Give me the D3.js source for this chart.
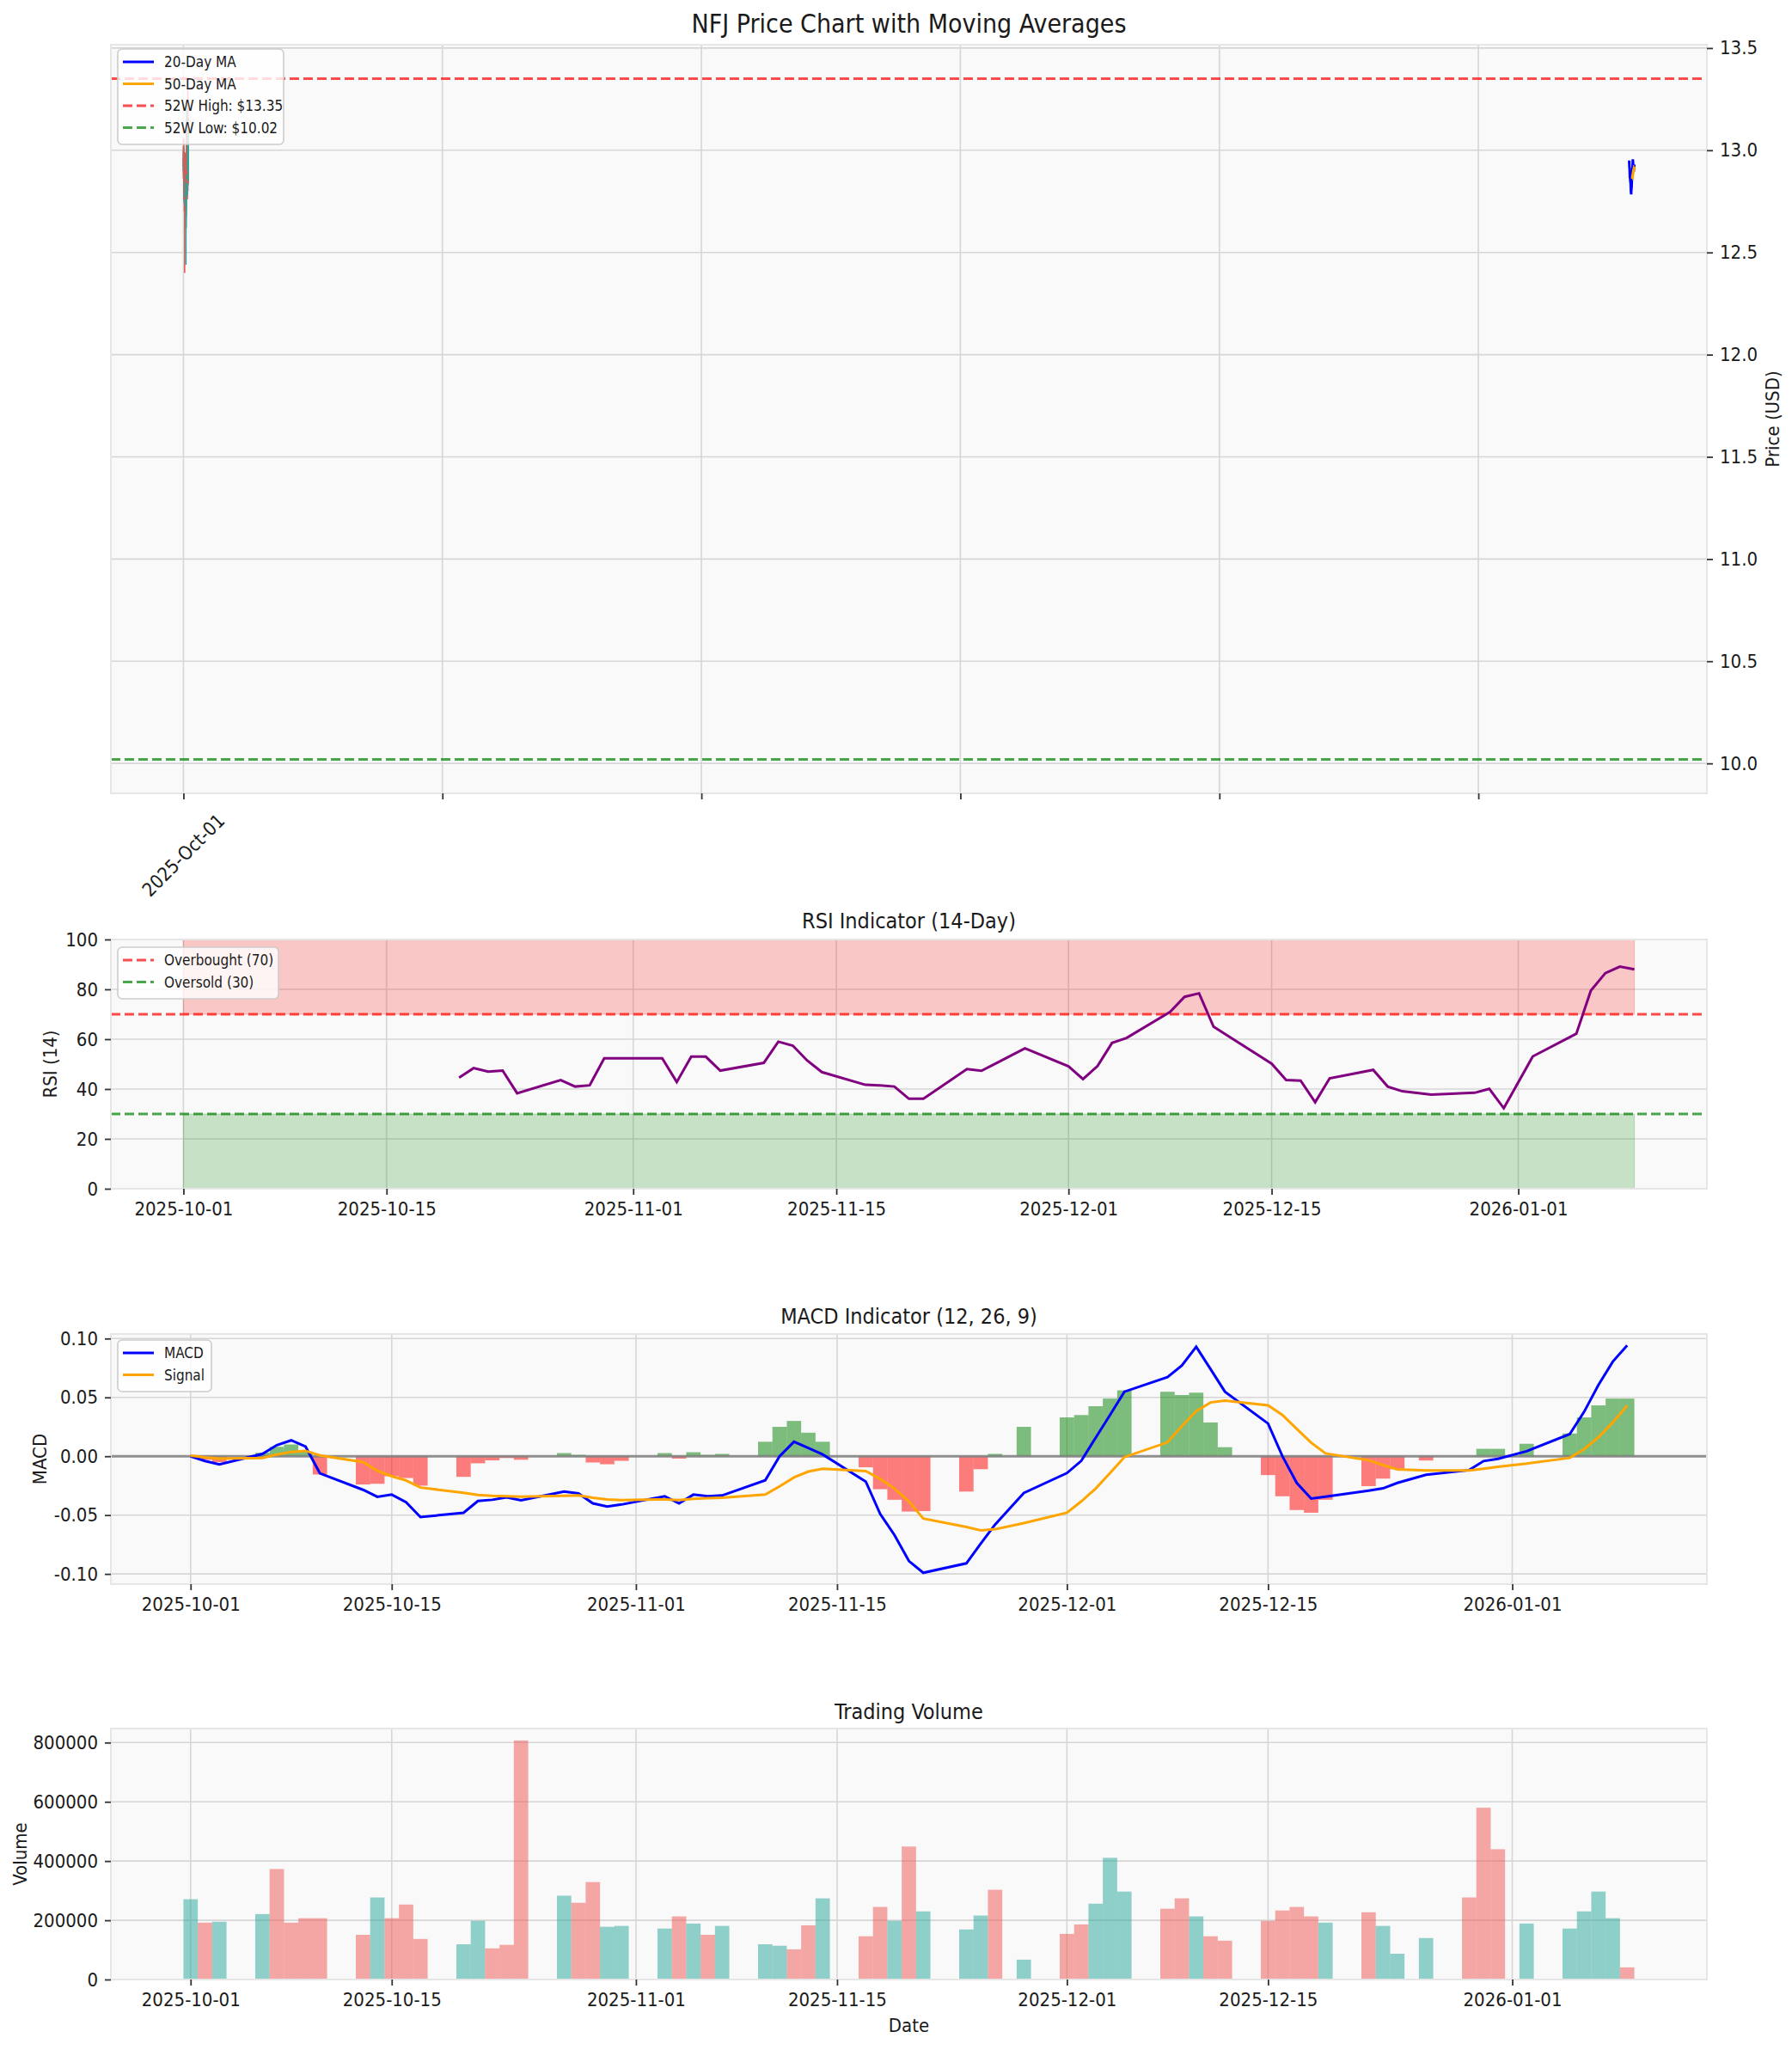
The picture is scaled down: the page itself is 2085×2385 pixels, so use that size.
<!DOCTYPE html>
<html>
<head>
<meta charset="utf-8">
<script src="https://cdn.jsdelivr.net/npm/d3@7"></script>
<style>
  body { margin: 0; background: #ffffff; }
  svg text { font-family: "Liberation Sans Narrow", "DejaVu Sans Condensed", "Noto Sans", sans-serif; fill: #1a1a1a; }
</style>
</head>
<body>
<svg id="chart" width="2085" height="2385"></svg>
<script>
// ---- data ----
const dates = [
  "2025-10-01","2025-10-02","2025-10-03","2025-10-06","2025-10-07","2025-10-08","2025-10-09","2025-10-10",
  "2025-10-13","2025-10-14","2025-10-15","2025-10-16","2025-10-17","2025-10-20","2025-10-21","2025-10-22",
  "2025-10-23","2025-10-24","2025-10-27","2025-10-28","2025-10-29","2025-10-30","2025-10-31",
  "2025-11-03","2025-11-04","2025-11-05","2025-11-06","2025-11-07","2025-11-10","2025-11-11","2025-11-12",
  "2025-11-13","2025-11-14","2025-11-17","2025-11-18","2025-11-19","2025-11-20","2025-11-21","2025-11-24",
  "2025-11-25","2025-11-26","2025-11-28",
  "2025-12-01","2025-12-02","2025-12-03","2025-12-04","2025-12-05","2025-12-08","2025-12-09","2025-12-10",
  "2025-12-11","2025-12-12","2025-12-15","2025-12-16","2025-12-17","2025-12-18","2025-12-19","2025-12-22",
  "2025-12-23","2025-12-24","2025-12-26","2025-12-29","2025-12-30","2025-12-31",
  "2026-01-02","2026-01-05","2026-01-06","2026-01-07","2026-01-08","2026-01-09"
];

const opens = [
  12.90,12.96,12.92,12.95,13.01,12.98,12.96,12.93,12.88,12.82,12.87,12.85,12.81,12.77,12.82,12.86,
  12.84,12.83,12.78,12.85,12.83,12.77,12.80,
  12.82,12.86,12.80,12.87,12.83,12.85,12.90,12.96,12.93,12.86,12.89,12.82,12.72,12.78,12.67,12.72,
  12.78,12.88,12.86,
  12.91,12.93,12.90,12.96,13.01,13.07,13.10,13.06,13.10,13.02,12.99,12.94,12.87,12.83,12.80,12.88,
  12.84,12.86,12.87,12.90,12.92,12.88,
  12.85,12.92,12.96,13.02,13.08,13.13
];
const highs = [
  13.02,12.99,13.00,13.05,13.06,13.00,12.98,12.95,12.90,12.91,12.90,12.88,12.84,12.85,12.88,12.89,
  12.87,12.86,12.88,12.88,12.86,12.84,12.86,
  12.89,12.88,12.89,12.90,12.88,12.93,12.98,12.99,12.95,12.92,12.91,12.84,12.80,12.82,12.76,12.81,
  12.87,12.91,12.92,
  12.94,12.96,12.99,13.25,13.09,13.10,13.13,13.16,13.12,13.05,13.01,12.96,12.89,12.86,12.87,12.90,
  12.89,12.90,12.91,12.93,13.30,12.91,
  12.95,12.99,13.05,13.11,13.15,13.16
];
const lows = [
  12.86,12.88,12.90,12.93,12.92,12.91,12.90,12.80,12.78,12.75,12.80,12.76,12.70,12.74,12.79,12.80,
  12.78,12.40,12.74,12.78,12.72,12.73,12.77,
  12.79,12.76,12.78,12.80,12.80,12.83,12.88,12.90,12.85,12.82,12.79,12.70,12.44,12.62,12.62,12.70,
  12.76,12.83,12.85,
  12.85,12.87,12.88,12.94,12.99,13.00,13.02,13.04,12.98,12.95,12.90,12.83,12.78,12.76,12.78,12.82,
  12.82,12.84,12.85,12.85,12.83,12.80,
  12.83,12.90,12.94,13.00,13.05,13.07
];
const closes = [
  12.95,12.92,12.96,13.00,12.97,12.95,12.93,12.85,12.83,12.86,12.84,12.80,12.76,12.82,12.85,12.83,
  12.82,12.78,12.84,12.82,12.78,12.80,12.83,
  12.86,12.80,12.86,12.84,12.85,12.90,12.95,12.93,12.88,12.89,12.82,12.74,12.76,12.68,12.72,12.78,
  12.84,12.86,12.90,
  12.88,12.90,12.96,13.02,13.05,13.04,13.06,13.12,13.02,12.98,12.94,12.86,12.82,12.80,12.84,12.85,
  12.86,12.88,12.89,12.88,12.87,12.84,
  12.92,12.96,13.02,13.08,13.12,13.10
];

const volumes = [
  271000,192000,195000,221000,373000,192000,207000,207000,151000,277000,207000,253000,137000,119000,
  198000,105000,117000,807000,283000,259000,329000,178000,181000,
  172000,213000,189000,151000,181000,119000,114000,102000,183000,274000,146000,245000,198000,449000,
  230000,169000,216000,303000,67000,
  154000,186000,256000,411000,297000,239000,274000,213000,146000,131000,198000,233000,245000,213000,
  192000,227000,181000,87000,140000,277000,580000,440000,
  189000,172000,230000,297000,207000,41000
];

const ma20 = [
  null,null,null,null,null,null,null,null,null,null,null,null,null,null,null,null,null,null,null,
  12.95,12.94,12.93,12.92,
  12.91,12.90,12.89,12.88,12.87,12.87,12.86,12.86,12.85,12.85,12.84,12.83,12.82,12.81,12.80,12.79,
  12.79,12.80,12.81,
  12.82,12.83,12.84,12.85,12.86,12.87,12.88,12.89,12.90,12.91,12.92,12.93,12.94,12.95,12.95,12.94,
  12.93,12.92,12.91,12.90,12.90,12.90,
  12.91,12.91,12.92,12.92,12.93,12.93
];
const ma50 = [
  null,null,null,null,null,null,null,null,null,null,null,null,null,null,null,null,null,null,null,
  null,null,null,null,
  null,null,null,null,null,null,null,null,null,null,null,null,null,null,null,null,null,null,null,
  null,null,null,null,null,null,null,
  12.86,12.86,12.87,12.87,12.87,12.88,12.88,12.88,12.89,12.89,12.89,12.90,12.90,12.90,12.90,
  12.91,12.91,12.91,12.92,12.92,12.92
];

const rsi = [
  null,null,null,null,null,null,null,null,null,null,null,null,null,
  44.6,48.4,47.0,47.4,38.3,43.6,41.0,41.5,52.3,52.3,
  52.3,42.8,53.0,53.0,47.4,50.5,59.0,57.4,51.4,46.8,41.7,41.5,41.0,36.1,36.1,48.0,47.3,50.3,56.3,
  49.1,44.0,49.2,58.5,60.5,70.9,77.0,78.4,65.0,61.3,50.2,43.6,43.4,34.7,44.3,47.7,41.0,39.1,37.8,
  38.5,40.1,32.3,
  53.1,62.2,79.5,86.5,89.1,88.0
];

const macd = [
  0.000,-0.004,-0.007,0.002,0.0094,0.0135,0.0082,-0.0145,-0.0285,-0.0345,-0.0326,-0.039,-0.0517,
  -0.048,-0.038,-0.037,-0.035,-0.0374,-0.030,-0.0316,-0.040,-0.0428,-0.041,
  -0.034,-0.040,-0.0326,-0.034,-0.0333,-0.0205,0.000,0.0123,0.007,0.0015,-0.0215,-0.049,-0.067,
  -0.089,-0.099,-0.091,-0.0743,-0.058,-0.0312,
  -0.0143,-0.0039,0.0157,0.035,0.0548,0.0672,0.077,0.093,0.074,0.0548,0.0278,0.000,-0.0227,-0.036,
  -0.0343,-0.0292,-0.0273,-0.0227,-0.0157,-0.0118,-0.0041,-0.0022,
  0.0043,0.0188,0.0377,0.0606,0.0804,0.0942
];
const signal = [
  0.0005,-0.001,-0.002,-0.0015,0.0015,0.0036,0.0046,0.0007,-0.005,-0.0123,-0.017,-0.0205,-0.0266,
  -0.031,-0.0329,-0.0336,-0.034,-0.0343,-0.0336,-0.0333,-0.0353,-0.0367,-0.0372,
  -0.0367,-0.0372,-0.0362,-0.0357,-0.0353,-0.0326,-0.0256,-0.018,-0.013,-0.0106,-0.0126,-0.0193,
  -0.0275,-0.0384,-0.0529,-0.0601,-0.063,-0.062,-0.0568,
  -0.048,-0.0384,-0.0275,-0.0143,-0.0007,0.0118,0.0256,0.0384,0.0457,0.0473,0.0432,0.035,0.0232,
  0.0116,0.0024,-0.0034,-0.0075,-0.0111,-0.0121,-0.0121,-0.0106,-0.0089,
  -0.0063,-0.0014,0.006,0.0162,0.0287,0.043
];
const histogram = [
  0.000,-0.003,-0.005,0.003,0.008,0.010,0.004,-0.0155,-0.024,-0.0234,-0.017,-0.0185,-0.025,
  -0.0175,-0.006,-0.0035,-0.0015,-0.003,0.0027,0.0012,-0.0053,-0.0068,-0.0039,
  0.0027,-0.002,0.0034,0.0012,0.002,0.0123,0.025,0.030,0.020,0.0123,-0.0094,-0.028,-0.037,-0.047,
  -0.0466,-0.030,-0.011,0.002,0.025,
  0.033,0.035,0.0425,0.049,0.056,0.0548,0.052,0.054,0.0287,0.0077,-0.016,-0.034,-0.0457,-0.048,
  -0.037,-0.0254,-0.019,-0.011,-0.0036,0.0003,0.0063,0.0063,
  0.0106,0.0193,0.033,0.0432,0.049,0.049
];

const high52 = 13.35;
const low52 = 10.02;

const dateTicks = ["2025-10-01","2025-10-15","2025-11-01","2025-11-15","2025-12-01","2025-12-15","2026-01-01"];
// the price panel mixes candle index and date numbers, so its ticks sit on decade starts
const priceTickYears = [1970, 1980, 1990, 2000, 2010, 2020];
const priceTickLabels = ["2025-Oct-01", "", "", "", "", ""];
const priceTicks = [10.0, 10.5, 11.0, 11.5, 12.0, 12.5, 13.0, 13.5];
const rsiTicks = [0, 20, 40, 60, 80, 100];
const macdTicks = [-0.10, -0.05, 0.00, 0.05, 0.10];
const volumeTicks = [0, 200000, 400000, 600000, 800000];

// ---- layout ----
const svg = d3.select("#chart");
const X0 = 129, X1 = 1986;
const panel = {
  price: [52, 923],
  rsi: [1093, 1383],
  macd: [1552, 1843],
  vol: [2011, 2303],
};
const BG = "#f9f9f9", GRID = "#d6d6d6", SPINE = "#e6e6e6", TICK = "#333333";
const TICK_FONT = 22, TITLE_FONT = 25, LEGEND_FONT = 17;

const parse = d3.utcParse("%Y-%m-%d");
const DAY = 864e5;
const days = dates.map(parse);
const epochDays = (d) => d.getTime() / DAY;

const rows = dates.map((d, i) => ({
  i,
  date: days[i],
  open: opens[i], high: highs[i], low: lows[i], close: closes[i],
  volume: volumes[i],
  ma20: ma20[i], ma50: ma50[i],
  rsi: rsi[i], macd: macd[i], signal: signal[i], hist: histogram[i],
}));
const first = days[0], last = days[days.length - 1];

function shiftDays(d, n) { return new Date(d.getTime() + n * DAY); }

function addPanel([y0, y1]) {
  const g = svg.append("g");
  g.append("rect").attr("x", X0).attr("y", y0).attr("width", X1 - X0).attr("height", y1 - y0).attr("fill", BG);
  return g;
}

function addGrid(g, [y0, y1], xs, ys) {
  g.append("g").selectAll("line").data(xs).join("line")
    .attr("x1", (d) => d).attr("x2", (d) => d).attr("y1", y0).attr("y2", y1)
    .attr("stroke", GRID).attr("stroke-width", 1.6);
  g.append("g").selectAll("line").data(ys).join("line")
    .attr("x1", X0).attr("x2", X1).attr("y1", (d) => d).attr("y2", (d) => d)
    .attr("stroke", GRID).attr("stroke-width", 1.6);
}

function addSpine(g, [y0, y1]) {
  g.append("rect").attr("x", X0).attr("y", y0).attr("width", X1 - X0).attr("height", y1 - y0)
    .attr("fill", "none").attr("stroke", SPINE).attr("stroke-width", 2);
}

function styleAxis(axisG) {
  axisG.select(".domain").remove();
  axisG.selectAll(".tick line").attr("stroke", TICK).attr("stroke-width", 1.8);
  axisG.selectAll(".tick text").attr("font-size", TICK_FONT).attr("fill", "#1a1a1a")
    .style("font-family", null);
  axisG.attr("font-family", null).attr("font-size", null);
}

function addTitle(text, y, size) {
  svg.append("text").attr("x", (X0 + X1) / 2).attr("y", y)
    .attr("text-anchor", "middle").attr("dominant-baseline", "central")
    .attr("font-size", size).text(text);
}

function addYLabel(text, x, [y0, y1]) {
  svg.append("text")
    .attr("transform", `translate(${x},${(y0 + y1) / 2}) rotate(-90)`)
    .attr("text-anchor", "middle").attr("dominant-baseline", "central")
    .attr("font-size", TICK_FONT).text(text);
}

function addLegend(x, y, w, items) {
  const rowH = 25.5;
  const h = items.length * rowH + 9;
  const g = svg.append("g").attr("transform", `translate(${x},${y})`);
  g.append("rect").attr("width", w).attr("height", h).attr("rx", 5)
    .attr("fill", "#ffffff").attr("fill-opacity", 0.8)
    .attr("stroke", "#cccccc").attr("stroke-width", 1.6);
  items.forEach((it, k) => {
    const cy = 15 + k * rowH;
    g.append("line").attr("x1", 6).attr("x2", 42).attr("y1", cy).attr("y2", cy)
      .attr("stroke", it.color).attr("stroke-width", 3.2)
      .attr("stroke-opacity", it.opacity || 1)
      .attr("stroke-dasharray", it.dash ? "11,5" : null);
    g.append("text").attr("x", 54).attr("y", cy).attr("dominant-baseline", "central")
      .attr("font-size", LEGEND_FONT).text(it.label);
  });
}

// ---- price panel ----
{
  const p = panel.price;
  const g = addPanel(p);
  // candles at their row index, averages at their dates: both on one numeric axis
  const xMin = -0.3, xMax = epochDays(last);
  const pad = (xMax - xMin) * 0.05;
  const x = d3.scaleLinear().domain([xMin - pad, xMax + pad]).range([X0, X1]);
  const yPad = (high52 - low52) * 0.05;
  const y = d3.scaleLinear().domain([low52 - yPad, high52 + yPad]).range([p[1], p[0]]);
  const tickX = priceTickYears.map((yr) => Date.UTC(yr, 0, 1) / DAY);

  addGrid(g, p, tickX.map(x), priceTicks.map(y));

  const up = "#26a69a", down = "#ef5350";
  const candles = g.append("g");
  candles.selectAll("line").data(rows).join("line")
    .attr("x1", (d) => x(d.i)).attr("x2", (d) => x(d.i))
    .attr("y1", (d) => y(d.high)).attr("y2", (d) => y(d.low))
    .attr("stroke", (d) => (d.close >= d.open ? up : down)).attr("stroke-width", 1.6);
  candles.selectAll("rect").data(rows).join("rect")
    .attr("x", (d) => x(d.i - 0.3) - 0.8)
    .attr("width", (d) => x(d.i + 0.3) - x(d.i - 0.3) + 1.6)
    .attr("y", (d) => y(Math.max(d.open, d.close)))
    .attr("height", (d) => Math.max(1, Math.abs(y(d.open) - y(d.close))))
    .attr("fill", (d) => (d.close >= d.open ? up : down));

  const maLine = (key) => d3.line().defined((d) => d[key] != null)
    .x((d) => x(epochDays(d.date))).y((d) => y(d[key]));
  g.append("path").datum(rows).attr("d", maLine("ma20"))
    .attr("fill", "none").attr("stroke", "#0000ff").attr("stroke-width", 3);
  g.append("path").datum(rows).attr("d", maLine("ma50"))
    .attr("fill", "none").attr("stroke", "#ffa500").attr("stroke-width", 3);

  g.append("line").attr("x1", X0).attr("x2", X1).attr("y1", y(high52)).attr("y2", y(high52))
    .attr("stroke", "#ff0000").attr("stroke-opacity", 0.7).attr("stroke-width", 3).attr("stroke-dasharray", "11,5");
  g.append("line").attr("x1", X0).attr("x2", X1).attr("y1", y(low52)).attr("y2", y(low52))
    .attr("stroke", "#008000").attr("stroke-opacity", 0.7).attr("stroke-width", 3).attr("stroke-dasharray", "11,5");

  addSpine(g, p);

  const ax = svg.append("g").attr("transform", `translate(0,${p[1]})`)
    .call(d3.axisBottom(x).tickValues(tickX).tickFormat((d, k) => priceTickLabels[k]).tickSize(7).tickSizeOuter(0));
  styleAxis(ax);
  ax.selectAll(".tick text").remove();
  tickX.forEach((t, k) => {
    if (!priceTickLabels[k]) return;
    svg.append("text")
      .attr("transform", `translate(${x(t)},${p[1] + 72}) rotate(-45)`)
      .attr("text-anchor", "middle").attr("dominant-baseline", "central")
      .attr("font-size", TICK_FONT).text(priceTickLabels[k]);
  });

  const ay = svg.append("g").attr("transform", `translate(${X1},0)`)
    .call(d3.axisRight(y).tickValues(priceTicks).tickFormat(d3.format(".1f")).tickSize(7).tickPadding(8));
  styleAxis(ay);

  addTitle("NFJ Price Chart with Moving Averages", 27, 30);
  addYLabel("Price (USD)", 2062, p);
  addLegend(137, 57, 193, [
    { label: "20-Day MA", color: "#0000ff" },
    { label: "50-Day MA", color: "#ffa500" },
    { label: "52W High: $13.35", color: "#ff0000", dash: true, opacity: 0.7 },
    { label: "52W Low: $10.02", color: "#008000", dash: true, opacity: 0.7 },
  ]);
}

function dateAxis(x, p) {
  const ax = svg.append("g").attr("transform", `translate(0,${p[1]})`)
    .call(d3.axisBottom(x).tickValues(dateTicks.map(parse)).tickFormat(d3.utcFormat("%Y-%m-%d"))
      .tickSize(7).tickPadding(8).tickSizeOuter(0));
  styleAxis(ax);
}

// ---- RSI panel ----
{
  const p = panel.rsi;
  const g = addPanel(p);
  const x = d3.scaleUtc().domain([shiftDays(first, -5), shiftDays(last, 5)]).range([X0, X1]);
  const y = d3.scaleLinear().domain([0, 100]).range([p[1], p[0]]);
  addGrid(g, p, dateTicks.map((d) => x(parse(d))), rsiTicks.map(y));

  const band = (lo, hi) => d3.area().x((d) => x(d.date)).y0(y(lo)).y1(y(hi));
  g.append("path").datum(rows).attr("d", band(70, 100)).attr("fill", "#ff0000").attr("fill-opacity", 0.2)
    .attr("stroke", "#ff0000").attr("stroke-opacity", 0.2);
  g.append("path").datum(rows).attr("d", band(0, 30)).attr("fill", "#008000").attr("fill-opacity", 0.2)
    .attr("stroke", "#008000").attr("stroke-opacity", 0.2);

  g.append("line").attr("x1", X0).attr("x2", X1).attr("y1", y(70)).attr("y2", y(70))
    .attr("stroke", "#ff0000").attr("stroke-opacity", 0.7).attr("stroke-width", 3).attr("stroke-dasharray", "11,5");
  g.append("line").attr("x1", X0).attr("x2", X1).attr("y1", y(30)).attr("y2", y(30))
    .attr("stroke", "#008000").attr("stroke-opacity", 0.7).attr("stroke-width", 3).attr("stroke-dasharray", "11,5");

  g.append("path").datum(rows.filter((d) => d.rsi != null))
    .attr("d", d3.line().x((d) => x(d.date)).y((d) => y(d.rsi)))
    .attr("fill", "none").attr("stroke", "#800080").attr("stroke-width", 3);

  addSpine(g, p);
  dateAxis(x, p);
  const ay = svg.append("g").attr("transform", `translate(${X0},0)`)
    .call(d3.axisLeft(y).tickValues(rsiTicks).tickFormat(d3.format("d")).tickSize(7).tickPadding(8));
  styleAxis(ay);

  addTitle("RSI Indicator (14-Day)", 1071, TITLE_FONT);
  addYLabel("RSI (14)", 58, p);
  addLegend(137, 1102, 187, [
    { label: "Overbought (70)", color: "#ff0000", dash: true, opacity: 0.7 },
    { label: "Oversold (30)", color: "#008000", dash: true, opacity: 0.7 },
  ]);
}

// ---- MACD panel ----
{
  const p = panel.macd;
  const g = addPanel(p);
  const x = d3.scaleUtc().domain([shiftDays(first, -5.55), shiftDays(last, 5.55)]).range([X0, X1]);
  const lo = d3.min(rows, (d) => Math.min(d.macd, d.signal, d.hist));
  const hi = d3.max(rows, (d) => Math.max(d.macd, d.signal, d.hist));
  const pad = (hi - lo) * 0.05;
  const y = d3.scaleLinear().domain([lo - pad, hi + pad]).range([p[1], p[0]]);
  addGrid(g, p, dateTicks.map((d) => x(parse(d))), macdTicks.map(y));

  g.append("g").selectAll("rect").data(rows).join("rect")
    .attr("x", (d) => x(shiftDays(d.date, -0.5)))
    .attr("width", (d) => x(shiftDays(d.date, 0.5)) - x(shiftDays(d.date, -0.5)))
    .attr("y", (d) => y(Math.max(0, d.hist)))
    .attr("height", (d) => Math.abs(y(d.hist) - y(0)))
    .attr("fill", (d) => (d.hist >= 0 ? "#008000" : "#ff0000")).attr("fill-opacity", 0.5);

  g.append("line").attr("x1", X0).attr("x2", X1).attr("y1", y(0)).attr("y2", y(0))
    .attr("stroke", "#808080").attr("stroke-opacity", 0.85).attr("stroke-width", 3);

  g.append("path").datum(rows).attr("d", d3.line().x((d) => x(d.date)).y((d) => y(d.macd)))
    .attr("fill", "none").attr("stroke", "#0000ff").attr("stroke-width", 3);
  g.append("path").datum(rows).attr("d", d3.line().x((d) => x(d.date)).y((d) => y(d.signal)))
    .attr("fill", "none").attr("stroke", "#ffa500").attr("stroke-width", 3);

  addSpine(g, p);
  dateAxis(x, p);
  const ay = svg.append("g").attr("transform", `translate(${X0},0)`)
    .call(d3.axisLeft(y).tickValues(macdTicks).tickFormat(d3.format(".2f")).tickSize(7).tickPadding(8));
  styleAxis(ay);
  ay.selectAll(".tick text").text((d) => d3.format(".2f")(d).replace("−", "-"));

  addTitle("MACD Indicator (12, 26, 9)", 1531, TITLE_FONT);
  addYLabel("MACD", 46, p);
  addLegend(137, 1559, 109, [
    { label: "MACD", color: "#0000ff" },
    { label: "Signal", color: "#ffa500" },
  ]);
}

// ---- volume panel ----
{
  const p = panel.vol;
  const g = addPanel(p);
  const x = d3.scaleUtc().domain([shiftDays(first, -5.55), shiftDays(last, 5.55)]).range([X0, X1]);
  const y = d3.scaleLinear().domain([0, d3.max(volumes) * 1.05]).range([p[1], p[0]]);
  addGrid(g, p, dateTicks.map((d) => x(parse(d))), volumeTicks.map(y));

  g.append("g").selectAll("rect").data(rows).join("rect")
    .attr("x", (d) => x(shiftDays(d.date, -0.5)))
    .attr("width", (d) => x(shiftDays(d.date, 0.5)) - x(shiftDays(d.date, -0.5)))
    .attr("y", (d) => y(d.volume))
    .attr("height", (d) => y(0) - y(d.volume))
    .attr("fill", (d) => (d.close >= d.open ? "#26a69a" : "#ef5350")).attr("fill-opacity", 0.5);

  addSpine(g, p);
  dateAxis(x, p);
  const ay = svg.append("g").attr("transform", `translate(${X0},0)`)
    .call(d3.axisLeft(y).tickValues(volumeTicks).tickFormat(d3.format("d")).tickSize(7).tickPadding(8));
  styleAxis(ay);

  addTitle("Trading Volume", 1991, TITLE_FONT);
  addYLabel("Volume", 23, p);
  svg.append("text").attr("x", (X0 + X1) / 2).attr("y", 2356)
    .attr("text-anchor", "middle").attr("dominant-baseline", "central")
    .attr("font-size", TICK_FONT).text("Date");
}
</script>
</body>
</html>
